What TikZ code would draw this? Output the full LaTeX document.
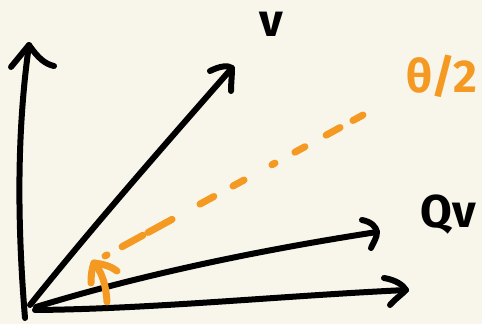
\documentclass[tikz,border=0pt]{standalone}
\usepackage{fontspec}
\setmainfont{Fira Sans}
\usetikzlibrary{calc}
\definecolor{bg}{HTML}{F8F6EA}
\definecolor{ora}{HTML}{F49A22}
\tikzset{
  ink/.style={line width=6pt, line cap=round, line join=round, draw=black},
  oink/.style={line width=7pt, line cap=round, line join=round, draw=ora},
  lbl/.style={inner sep=0pt, anchor=base, font=\fontsize{46}{46}\selectfont\bfseries},
}
\begin{document}
\begin{tikzpicture}[x=1pt,y=-1pt]
\fill[bg] (0,0) rectangle (482,324);
\useasboundingbox (0,0) rectangle (482,324);
% key points
\coordinate (O1) at (25,318);
\coordinate (Ytip) at (29,45);
\coordinate (Vs) at (30,305);
\coordinate (Vtip) at (232,68);
\coordinate (Qs) at (36,307);
\coordinate (Qtip) at (377,232);
\coordinate (Xs) at (35,310);
\coordinate (Xtip) at (406,290);
\coordinate (Ds) at (105,256);
\coordinate (De) at (363,115);
\coordinate (As) at (107,302);
\coordinate (Atip) at (94,263);
% vertical axis
\draw[ink] (O1) .. controls (17,220) and (17,130) .. (Ytip);
\draw[ink] (11,67) -- (Ytip) .. controls (38,58) and (45,64) .. (54,66);
% v
\draw[ink] (Vs) .. controls (90,230) and (160,150) .. (Vtip);
\draw[ink] (210,71) .. controls (220,66) and (228,65) .. (Vtip) .. controls (232,75) and (231,84) .. (231,91);
% Qv
\draw[ink] (Qs) .. controls (140,275) and (260,250) .. (Qtip);
\draw[ink] (362,220) .. controls (372,222) and (376,227) .. (Qtip) .. controls (377,238) and (373,243) .. (371,248);
% horizontal axis
\draw[ink] (Xs) .. controls (150,309) and (280,296) .. (Xtip);
\draw[ink] (384,278) .. controls (396,280) and (403,285) .. (Xtip) .. controls (400,296) and (394,300) .. (390,305);
% orange dashed bisector
\foreach \a/\b in {0/0.008, 0.066/0.147, 0.167/0.26, 0.368/0.422, 0.496/0.539, 0.647/0.659, 0.736/0.775, 0.857/0.911, 0.961/1}
  \draw[oink] ($(Ds)!\a!(De)$) -- ($(Ds)!\b!(De)$);
% orange angle arrow
\draw[oink] (As) .. controls (106,285) and (102,272) .. (Atip);
\draw[oink] (91,283) .. controls (91,275) and (92,268) .. (Atip) .. controls (104,264) and (112,267) .. (117,271);
% labels
\node[lbl] (lv) at (271,36) {v};
\node[lbl, text=ora] (lth) at (442,92) {θ/2};
\node[lbl] (lqv) at (448,227) {Qv};
\end{tikzpicture}
\end{document}
